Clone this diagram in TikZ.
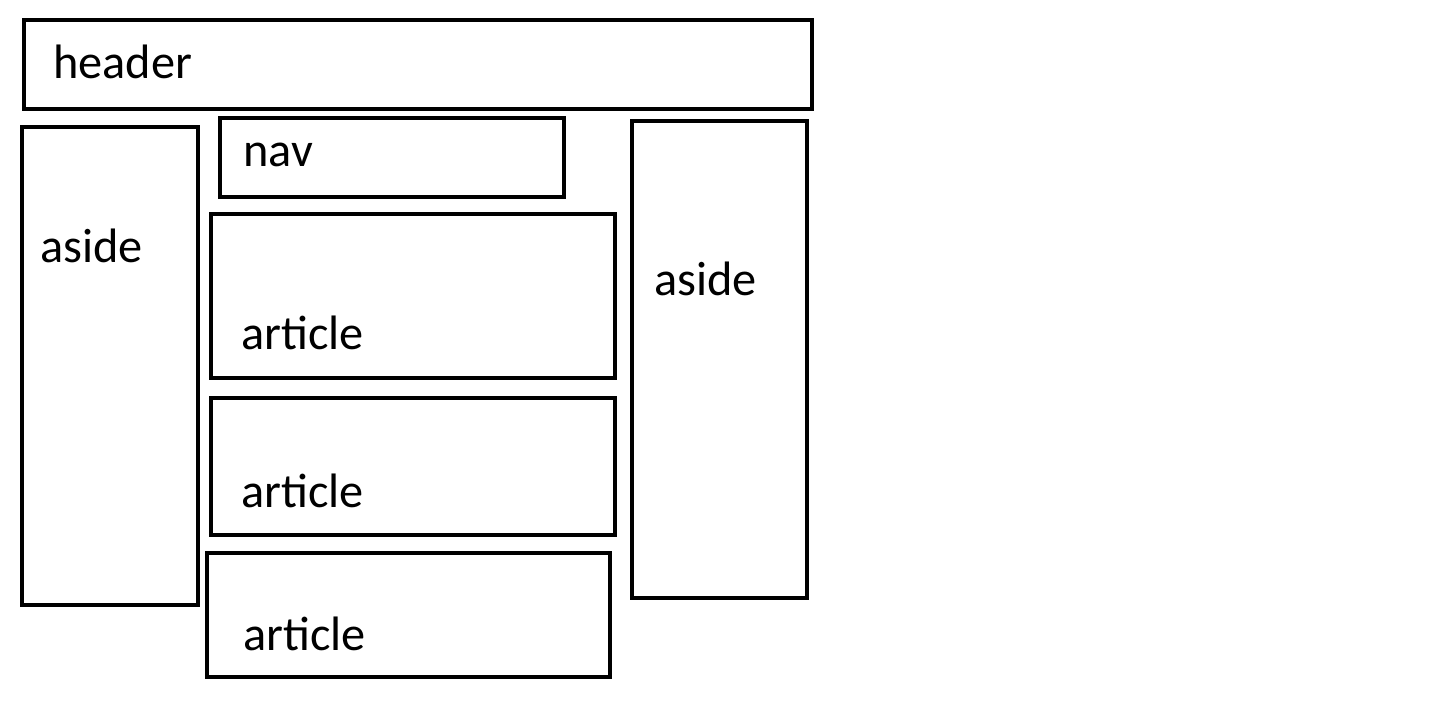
\documentclass[tikz,border=0pt]{standalone}
\usepackage{fontspec}
\setmainfont{Carlito}
\usepackage{tikz}
\usetikzlibrary{positioning}

\tikzset{
  pane/.style={draw=black, line width=2.6pt, fill=white, inner sep=0pt},
  panelabel/.style={anchor=base west, inner sep=0pt, font=\fontsize{27.5}{33}\selectfont}
}

\begin{document}
\begin{tikzpicture}[x=0.02cm, y=-0.02cm]
      \useasboundingbox (0,0) rectangle (1442,702);
      % Header
      \node[pane, minimum width=15.76cm, minimum height=1.78cm] (header) at (418,64.5) {};
      \node[panelabel] (headertext) at (53,79) {header};
      % Left aside
      \node[pane, minimum width=3.52cm, minimum height=9.56cm] (asideleft) at (110,366) {};
      \node[panelabel] (asidelefttext) at (40,263) {aside};
      % Nav
      \node[pane, minimum width=6.88cm, minimum height=1.58cm] (nav) at (392,157.5) {};
      \node[panelabel] (navtext) at (243,167) {nav};
      % Articles
      \node[pane, minimum width=8.08cm, minimum height=3.28cm] (articleone) at (413,296) {};
      \node[panelabel] (articleonetext) at (241,349) {article};
      \node[pane, minimum width=8.08cm, minimum height=2.74cm] (articletwo) at (413,466.5) {};
      \node[panelabel] (articletwotext) at (241,507) {article};
      \node[pane, minimum width=8.06cm, minimum height=2.48cm] (articlethree) at (408.5,615) {};
      \node[panelabel] (articlethreetext) at (243,650) {article};
      % Right aside
      \node[pane, minimum width=3.5cm, minimum height=9.54cm] (asideright) at (719.5,359.5) {};
      \node[panelabel] (asiderighttext) at (654,296) {aside};
\end{tikzpicture}
\end{document}
